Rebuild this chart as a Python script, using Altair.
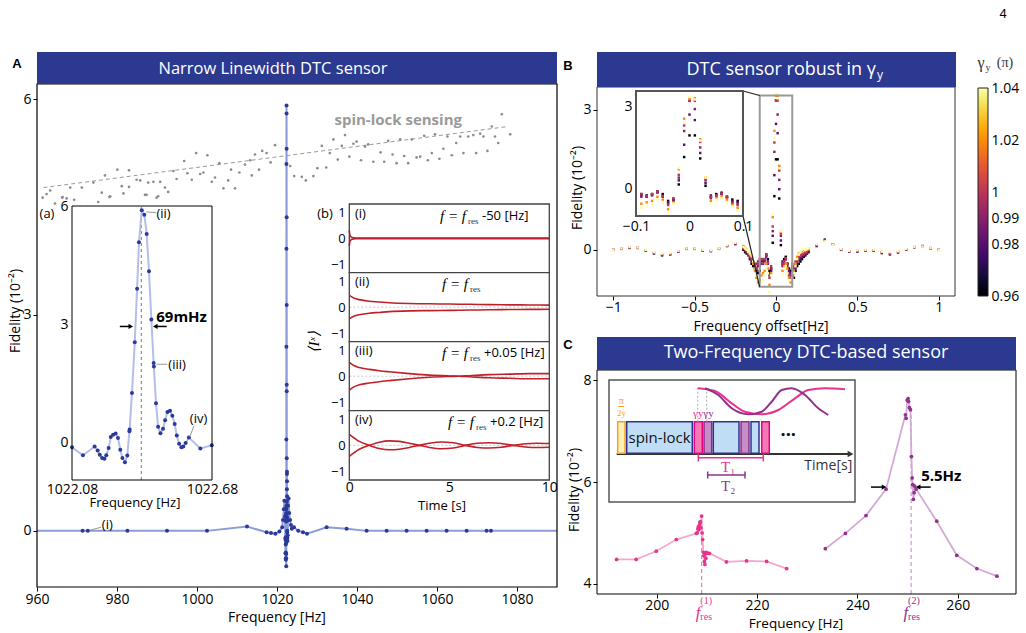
import altair as alt
import numpy as np
import pandas as pd

SANS = "Open Sans"
SERIF = "Liberation Serif"
ARIAL = "Liberation Sans"
NAVY = "#2B3990"
BLUE_PT = "#2B3A98"
BLUE_LN = "#8D9BD6"
BLUE_LN2 = "#B4BEE8"
PINK = "#E8338B"
PINK_LN = "#F5A8CC"
PURP = "#93318F"
PURP_LN = "#D3AAD6"
ORANGE = "#F6A21E"
RED = "#C0202A"

# ============================ DATA ============================
# --- Panel A: DTC sensor frequency scan (outside the zoom window) ---
A_LEFT_F = [971.4, 972.7, 982.6, 992.5, 1002.5, 1012.5, 1017.4, 1018.5, 1019.6, 1020.6,
            1021.3, 1021.5, 1021.7, 1021.85, 1022.0]
A_LEFT_V = [0.0, 0.0, 0.0, 0.0, 0.0, 0.06, -0.02, -0.03, -0.04, -0.01,
            0.05, 0.15, 0.3, 0.42, 0.2]
A_RIGHT_F = [1022.75, 1022.9, 1023.05, 1023.25, 1023.5, 1023.7, 1024.25, 1025.3, 1026.5, 1027.5,
             1032.4, 1037.4, 1042.4, 1047.4, 1052.4, 1057.4, 1062.4, 1067.4, 1072.4, 1073.5]
A_RIGHT_V = [0.35, 0.45, 0.25, 0.15, 0.08, 0.03, 0.05, 0.0, -0.02, -0.04,
             0.05, 0.03, 0.0, 0.0, 0.0, 0.0, 0.0, 0.0, 0.0, 0.0]
A_EDGE_F = [960, 1090]
A_EDGE_V = [0.0, 0.0]

# --- Inset (a): zoom on the resonance ---
IA_F = [1022.08, 1022.127, 1022.177, 1022.19, 1022.199, 1022.209, 1022.219, 1022.227, 1022.237, 1022.246,
        1022.256, 1022.267, 1022.277, 1022.287, 1022.296, 1022.307, 1022.317, 1022.326, 1022.327, 1022.337,
        1022.349, 1022.359, 1022.367, 1022.379, 1022.39, 1022.40, 1022.41, 1022.42, 1022.43, 1022.431,
        1022.44, 1022.449, 1022.459, 1022.47, 1022.479, 1022.489, 1022.50, 1022.51, 1022.52, 1022.529,
        1022.539, 1022.549, 1022.557, 1022.567, 1022.581, 1022.63, 1022.679]
IA_V = [-0.11, -0.31, -0.09, -0.19, -0.30, -0.38, -0.40, -0.31, -0.13, 0.15,
        0.21, 0.24, 0.13, -0.17, -0.38, -0.49, -0.32, 0.30, 0.34, 1.27,
        2.56, 3.92, 5.10, 5.91, 5.80, 5.31, 4.36, 3.14, 2.03, 1.94,
        1.01, 0.41, 0.25, 0.36, 0.58, 0.79, 0.82, 0.69, 0.48, 0.19,
        -0.02, -0.11, -0.09, 0.0, 0.14, -0.14, -0.06]
IA_RES = 1022.377

# --- spin-lock sensing (gray) ---
SL_F = [961.4, 963.3, 964.5, 966.3, 968.3, 969.3, 971.2, 974.1, 975.3, 976.2,
        977.0, 978.1, 980.1, 981.2, 983.0, 983.0, 984.9, 985.8, 987.0, 987.8,
        989.1, 989.9, 990.8, 992.0, 992.8, 994.1, 994.9, 996.8, 997.6, 998.7,
        999.8, 1000.8, 1001.6, 1002.6, 1003.7, 1004.5, 1005.6, 1006.6, 1007.8, 1008.5,
        1009.5, 1010.6, 1012.0, 1013.3, 1013.7, 1014.5, 1015.5, 1016.3, 1017.4, 1018.4,
        1019.5, 1023.3, 1024.3, 1026.2, 1027.2, 1029.1, 1030.1, 1031.2, 1032.3, 1033.2,
        1034.1, 1035.2, 1036.2, 1037.0, 1038.1, 1039.1, 1039.9, 1041.0, 1042.0, 1042.8,
        1044.1, 1045.9, 1046.8, 1047.8, 1048.9, 1049.9, 1050.8, 1051.8, 1052.8, 1053.7,
        1054.9, 1055.8, 1056.8, 1057.7, 1058.7, 1059.5, 1060.6, 1061.6, 1062.6, 1063.7,
        1064.8, 1065.8, 1066.6, 1067.8, 1069.1, 1069.8, 1070.8, 1071.6, 1072.6, 1073.7,
        1074.5, 1075.3, 1076.2, 1078.3,
        962.4, 966.4, 967.4, 970.8, 972.4, 973.3, 978.3, 981.6, 987.4, 990.3]
SL_V = [4.63, 4.73, 4.55, 4.63, 4.77, 4.60, 4.77, 4.84, 4.57, 4.70,
        4.94, 4.64, 5.02, 4.79, 5.01, 4.78, 4.88, 4.87, 4.67, 4.84,
        4.85, 4.63, 4.85, 4.77, 4.71, 5.00, 4.89, 5.14, 4.97, 4.88,
        5.25, 4.96, 4.98, 5.22, 4.85, 4.91, 5.11, 4.76, 4.87, 5.02,
        4.76, 4.98, 5.09, 5.15, 4.94, 5.23, 5.02, 5.28, 5.25, 5.12,
        5.36, 5.07, 4.93, 4.92, 4.87, 4.93, 5.04, 5.35, 5.05, 5.25,
        5.44, 5.16, 5.35, 5.50, 5.20, 5.38, 5.41, 5.15, 5.34, 5.37,
        5.13, 5.26, 5.13, 5.42, 5.23, 5.11, 5.44, 5.21, 5.11, 5.44,
        5.19, 5.20, 5.49, 5.15, 5.25, 5.51, 5.17, 5.31, 5.48, 5.22,
        5.39, 5.48, 5.25, 5.48, 5.50, 5.25, 5.52, 5.48, 5.28, 5.62,
        5.48, 5.39, 5.79, 5.51,
        4.68, 4.64, 4.62, 4.50, 4.50, 4.50, 4.65, 4.69, 4.67, 4.65]
SL_TREND_F = [961.6, 1077.8]
SL_TREND_V = [4.77, 5.62]

# --- Inset (b): <I^x> time traces (upper / lower branches) ---
B1_T = [0, 0.03, 0.08, 0.15, 0.3, 1, 10]
B1_U = [0.3, 0.12, 0.06, 0.03, 0.01, 0.01, 0.01]
B1_L = [-0.3, -0.12, -0.06, -0.03, -0.01, -0.01, -0.01]
B2_T = [0, 0.25, 0.5, 1, 1.5, 2, 3, 4, 5, 6, 7, 8, 9, 10]
B2_U = [0.45, 0.34, 0.29, 0.23, 0.20, 0.17, 0.14, 0.13, 0.12, 0.11, 0.10, 0.09, 0.085, 0.08]
B2_L = [-0.45, -0.34, -0.29, -0.23, -0.20, -0.17, -0.14, -0.13, -0.12, -0.11, -0.10, -0.09, -0.085, -0.08]
B3_T = [0, 0.25, 0.5, 1, 1.5, 2, 3, 4, 5, 5.5, 6, 7, 8, 9, 10]
B3_U = [0.53, 0.40, 0.33, 0.26, 0.21, 0.17, 0.10, 0.04, 0.01, 0.0, -0.02, -0.06, -0.08, -0.10, -0.10]
B3_L = [-0.53, -0.40, -0.33, -0.26, -0.21, -0.17, -0.10, -0.04, -0.01, 0.0, 0.02, 0.06, 0.08, 0.10, 0.10]
B4_T = [0, 0.5, 1, 1.5, 2, 2.5, 3, 3.5, 4, 4.6, 5.2, 5.8, 6.4, 7, 7.6, 8.2, 8.8, 9.4, 10]
B4_U = [0.42, 0.15, 0.0, -0.12, -0.17, -0.15, -0.08, 0.0, 0.08, 0.13, 0.10, 0.0, -0.08, -0.10, -0.07, 0.0, 0.06, 0.08, 0.07]
B4_L = [-0.42, -0.15, 0.0, 0.12, 0.17, 0.15, 0.08, 0.0, -0.08, -0.13, -0.10, 0.0, 0.08, 0.10, 0.07, 0.0, -0.06, -0.08, -0.07]

# --- Panel B: robustness in gamma_y ---
B_OUT_X = [-1.0, -0.95, -0.9, -0.85, -0.8, -0.75, -0.7, -0.65, -0.6, -0.55, -0.5, -0.45, -0.4, -0.35, -0.3, -0.25,
           0.25, 0.3, 0.35, 0.4, 0.45, 0.5, 0.55, 0.6, 0.65, 0.7, 0.75, 0.8, 0.85, 0.9, 0.95, 1.0]
B_OUT = {
    0.98: [0.0, 0.02, 0.04, 0.04, -0.02, -0.08, -0.12, -0.1, -0.04, 0.02, 0.02, -0.02, -0.03, 0.02, 0.08, 0.12,
           0.08, 0.22, 0.12, 0.0, -0.04, -0.04, -0.02, -0.02, -0.07, -0.1, -0.06, 0.0, 0.05, 0.08, 0.03, 0.0],
    1.0: [0.0, 0.03, 0.05, 0.05, -0.01, -0.06, -0.1, -0.09, -0.03, 0.03, 0.03, -0.01, -0.02, 0.03, 0.09, 0.14,
          0.1, 0.2, 0.12, 0.01, -0.03, -0.02, -0.01, -0.01, -0.05, -0.08, -0.04, 0.01, 0.06, 0.08, 0.04, 0.0],
    1.04: [0.0, 0.03, 0.06, 0.05, 0.0, -0.05, -0.08, -0.07, -0.02, 0.03, 0.03, 0.0, -0.01, 0.03, 0.1, 0.15,
           0.12, 0.18, 0.11, 0.02, -0.02, -0.01, 0.0, 0.0, -0.04, -0.05, -0.03, 0.02, 0.06, 0.07, 0.04, 0.0],
}
B_SIDE_X = [-0.2, -0.19, -0.18, -0.17, -0.16, -0.15, -0.14, -0.13, -0.12, -0.11, -0.1,
            0.1, 0.11, 0.12, 0.13, 0.14, 0.15, 0.16, 0.17, 0.18, 0.19, 0.2]
B_SIDE = {
    0.96: [0.0, -0.05, -0.08, -0.1, -0.2, -0.3, -0.35, -0.4, -0.45, -0.5, -0.45,
           -0.55, -0.6, -0.45, -0.35, -0.3, -0.25, -0.2, -0.15, -0.12, -0.08, -0.05],
    0.98: [0.02, -0.02, -0.06, -0.12, -0.18, -0.25, -0.3, -0.38, -0.4, -0.35, -0.3,
           -0.4, -0.5, -0.4, -0.3, -0.22, -0.2, -0.15, -0.12, -0.1, -0.06, -0.03],
    0.99: [0.05, 0.0, -0.05, -0.1, -0.15, -0.22, -0.28, -0.32, -0.3, -0.25, -0.35,
           -0.35, -0.4, -0.3, -0.25, -0.2, -0.15, -0.12, -0.1, -0.08, -0.05, -0.02],
    1.0: [0.04, 0.02, -0.03, -0.08, -0.12, -0.2, -0.25, -0.3, -0.38, -0.3, -0.2,
          -0.3, -0.35, -0.25, -0.2, -0.15, -0.12, -0.1, -0.08, -0.06, -0.04, 0.0],
    1.02: [0.08, 0.04, 0.0, -0.05, -0.1, -0.15, -0.3, -0.45, -0.6, -0.7, -0.65,
           -0.5, -0.45, -0.3, -0.15, -0.08, -0.05, -0.02, 0.0, -0.02, 0.0, 0.02],
    1.04: [0.06, 0.03, 0.0, -0.04, -0.08, -0.12, -0.25, -0.4, -0.55, -0.65, -0.75,
           -0.6, -0.5, -0.35, -0.2, -0.1, -0.04, 0.0, 0.02, 0.0, 0.02, 0.03],
}
B_CEN_X = [-0.09, -0.08, -0.07, -0.06, -0.05, -0.04, -0.03, -0.02, -0.01, 0.0,
           0.01, 0.02, 0.03, 0.04, 0.05, 0.06, 0.07, 0.08, 0.09]
B_CEN = {
    0.96: [-0.2, -0.25, -0.2, -0.1, -0.2, -0.45, -0.4, 0.15, 1.15, 1.94, 1.94, 1.1, 0.1, -0.3, -0.2, -0.15, -0.3, -0.4, -0.45],
    0.98: [-0.25, -0.3, -0.22, -0.12, -0.25, -0.5, -0.45, 0.3, 1.6, 2.7, 2.5, 1.3, 0.2, -0.25, -0.25, -0.2, -0.3, -0.45, -0.5],
    0.99: [-0.3, -0.3, -0.25, -0.15, -0.3, -0.55, -0.4, 0.4, 2.1, 3.2, 2.9, 1.5, 0.3, -0.35, -0.3, -0.2, -0.35, -0.5, -0.55],
    1.0: [-0.2, -0.28, -0.2, -0.1, -0.28, -0.6, -0.35, 0.5, 2.3, 3.2, 3.2, 1.7, 0.35, -0.3, -0.25, -0.18, -0.3, -0.55, -0.6],
    1.02: [-0.55, -0.5, -0.45, -0.3, -0.4, -0.75, -0.5, 0.7, 2.55, 3.3, 3.3, 1.8, 0.4, -0.45, -0.35, -0.3, -0.4, -0.6, -0.7],
    1.04: [-0.7, -0.65, -0.55, -0.4, -0.5, -0.9, -0.55, 0.75, 2.4, 3.35, 3.25, 1.75, 0.4, -0.55, -0.4, -0.35, -0.5, -0.65, -0.8],
}
CB_TICKS = [0.96, 0.98, 0.99, 1.0, 1.02, 1.04]

# --- Panel C: two-frequency sensor ---
C1_F = [192.0, 195.9, 199.9, 203.9, 207.9, 208.07, 208.2, 208.3, 208.4, 208.5, 208.6, 208.7, 208.8, 208.95,
        209.05, 209.15, 209.3, 209.4, 209.5, 209.6, 209.7, 209.8, 209.9, 210.2, 210.5, 213.9, 217.9, 221.9, 225.9]
C1_V = [4.48, 4.48, 4.64, 4.87, 4.99, 5.0, 5.08, 5.12, 5.06, 5.15, 5.2, 5.22, 5.1, 5.33,
        5.0, 4.87, 4.62, 4.55, 4.44, 4.38, 4.6, 4.5, 4.62, 4.6, 4.6, 4.43, 4.45, 4.44, 4.30]
C2_F = [233.6, 237.6, 241.7, 245.7, 249.56, 249.7, 249.9, 250.1, 250.2, 250.36, 250.56, 250.76, 250.9, 251.0,
        251.15, 251.3, 251.4, 251.7, 255.8, 259.8, 263.8, 267.8]
C2_V = [4.69, 4.99, 5.34, 5.86, 7.32, 7.25, 7.61, 7.64, 7.58, 7.46, 7.42, 6.50, 6.08, 5.95,
        5.66, 5.79, 5.92, 5.86, 5.23, 4.56, 4.30, 4.15]
F_RES1, F_RES2 = 208.95, 250.7

# --- Panel C schematic (arbitrary time units) ---
SB_X1 = [8.7, 17.7, 85.3, 95.0, 104.3, 132.0, 142.0, 152.7]
SB_X2 = [16.0, 83.3, 93.3, 102.7, 130.0, 140.0, 150.0, 160.3]
SB_KIND = ["pi2", "lock", "g1", "g2", "lock", "g2", "lock", "g1"]
BLOCK_LO, BLOCK_HI = 48.7, 80.3
KINDS = ["pi2", "lock", "g1", "g2"]
K_FILL = ["#FFF1B8", "#BFDEF5", "#F47AB6", "#C58FC6"]
K_STROKE = [ORANGE, "#2E3192", "#E6007E", "#8B2C8D"]
SP_X = [88.7, 106, 122.7, 136, 152.7, 169.3, 186, 199.3, 216, 236]
SP_Y = [113.7, 111, 98.7, 90.3, 87.7, 92, 103.7, 112, 113.7, 112.7]
SQ_X = [96, 109.3, 122.7, 139.3, 152.7, 162.7, 172.7, 182.7, 196, 209.3, 219.3]
SQ_Y = [113.7, 107, 93.7, 87.7, 90.3, 100.3, 112, 113.7, 107, 93.7, 87]

# ============================ HELPERS ============================
ONE = pd.DataFrame({"k": [0]})


def sc(dom, rng):
    return alt.Scale(domain=dom, range=rng, zero=False, nice=False)


def ax(orient, offset, values, fmt, ticks=True, pad=2, size=14):
    return alt.Axis(orient=orient, offset=offset, values=values, format=fmt, title=None,
                    domain=False, grid=False, ticks=ticks, tickSize=4, tickColor="black",
                    labelFont=SANS, labelFontSize=size, labelColor="black", labelPadding=pad,
                    labelFlush=False, labelOverlap=False, labelBound=False)


def XE(spec, field):
    return alt.X(field, scale=spec[0], axis=spec[1])


def YE(spec, field):
    return alt.Y(field, scale=spec[0], axis=spec[1])


def ptext(s, x, y, size=14, color="black", font=SANS, weight="normal", style="normal",
          align="center", baseline="middle", angle=None):
    kw = dict(text=s, fontSize=size, color=color, font=font, fontWeight=weight,
              fontStyle=style, align=align, baseline=baseline)
    if angle is not None:
        kw["angle"] = angle
    return alt.Chart(ONE).mark_text(**kw).encode(x=alt.value(x), y=alt.value(y))


def prect(x1, y1, x2, y2, fill=None, stroke=None, sw=1.0):
    kw = {}
    if fill:
        kw["fill"] = fill
    else:
        kw["fillOpacity"] = 0
    if stroke:
        kw["stroke"] = stroke
        kw["strokeWidth"] = sw
    else:
        kw["strokeWidth"] = 0
    return alt.Chart(ONE).mark_rect(**kw).encode(
        x=alt.value(x1), y=alt.value(y1), x2=alt.value(x2), y2=alt.value(y2))


def prule(x1, y1, x2, y2, color, sw=1.0, dash=None):
    kw = dict(color=color, strokeWidth=sw)
    if dash:
        kw["strokeDash"] = dash
    return alt.Chart(ONE).mark_rule(**kw).encode(
        x=alt.value(x1), y=alt.value(y1), x2=alt.value(x2), y2=alt.value(y2))


def dtext(X, Y, x, y, s, **kw):
    df = pd.DataFrame({"x": [x], "y": [y]})
    return alt.Chart(df).mark_text(text=s, **kw).encode(x=XE(X, "x:Q"), y=YE(Y, "y:Q"))


def dtext_px(X, x, ypx, s, **kw):
    df = pd.DataFrame({"x": [x]})
    return alt.Chart(df).mark_text(text=s, **kw).encode(x=XE(X, "x:Q"), y=alt.value(ypx))


def drule(X, Y, x1, y1, x2, y2, **kw):
    df = pd.DataFrame({"x": [x1], "y": [y1], "x2": [x2], "y2": [y2]})
    return alt.Chart(df).mark_rule(**kw).encode(x=XE(X, "x:Q"), y=YE(Y, "y:Q"), x2="x2:Q", y2="y2:Q")


def dtri(X, Y, x, y, shape, color, size=30):
    df = pd.DataFrame({"x": [x], "y": [y]})
    return alt.Chart(df).mark_point(shape=shape, filled=True, color=color, size=size, opacity=1,
                                    strokeWidth=0).encode(x=XE(X, "x:Q"), y=YE(Y, "y:Q"))


def darrow(X, Y, x_tail, x_head, y, color="black", sw=1.5, size=30):
    shape = "triangle-right" if x_head > x_tail else "triangle-left"
    return alt.layer(drule(X, Y, x_tail, y, x_head, y, color=color, strokeWidth=sw),
                     dtri(X, Y, x_head, y, shape, color, size))


def drect(X, Y, x1, y1, x2, y2, **kw):
    df = pd.DataFrame({"x": [x1], "y": [y1], "x2": [x2], "y2": [y2]})
    return alt.Chart(df).mark_rect(**kw).encode(x=XE(X, "x:Q"), y=YE(Y, "y:Q"), x2="x2:Q", y2="y2:Q")


children = []

# ============================ PANEL A ============================
AXS = (sc([960, 1090], [37, 557]), ax("bottom", -46, [960, 980, 1000, 1020, 1040, 1060, 1080], "d", pad=1))
AYS = (sc([-0.78, 6.21], [587, 84]), ax("left", -37, [0, 3, 6], "d"))
a_pts = pd.DataFrame({"f": A_LEFT_F + IA_F + A_RIGHT_F, "v": A_LEFT_V + IA_V + A_RIGHT_V})
a_line = pd.DataFrame({"f": A_EDGE_F[:1] + A_LEFT_F + IA_F + A_RIGHT_F + A_EDGE_F[1:],
                       "v": A_EDGE_V[:1] + A_LEFT_V + IA_V + A_RIGHT_V + A_EDGE_V[1:]}).sort_values("f")
sl = pd.DataFrame({"f": SL_F, "v": SL_V})
sl_tr = pd.DataFrame({"f": SL_TREND_F, "v": SL_TREND_V})
panelA = alt.layer(
    alt.Chart(sl_tr).mark_line(color="#9A9A9A", strokeWidth=1, strokeDash=[4, 3]).encode(
        x=XE(AXS, "f:Q"), y=YE(AYS, "v:Q")),
    alt.Chart(sl).mark_circle(size=7, color="#8C8C8C", opacity=1).encode(x=XE(AXS, "f:Q"), y=YE(AYS, "v:Q")),
    alt.Chart(a_line).mark_line(color=BLUE_LN, strokeWidth=2).encode(x=XE(AXS, "f:Q"), y=YE(AYS, "v:Q")),
    alt.Chart(a_pts).mark_circle(size=16, color=BLUE_PT, opacity=1).encode(x=XE(AXS, "f:Q"), y=YE(AYS, "v:Q")),
    dtext(AXS, AYS, 1050.3, 5.71, "spin-lock sensing", fontSize=15, fontWeight="bold", color="#9A9A9A", font=SANS),
    dtext(AXS, AYS, 976.2, 0.08, "(i)", fontSize=13, font=SANS, align="left"),
    drule(AXS, AYS, 976.0, 0.05, 973.3, 0.01, color="#999999", strokeWidth=1),
)
children.append(panelA)

# ---------- inset (a) ----------
IAXS = (sc([1022.08, 1022.68], [72, 212]), ax("bottom", -153, [1022.08, 1022.68], ".2f", ticks=False, pad=2))
IAYS = (sc([-0.94, 6.02], [480, 206]), ax("left", -72, [0, 3, 6], "d", ticks=False, pad=4))
ia = pd.DataFrame({"f": IA_F, "v": IA_V})
insetA = alt.layer(
    prect(72, 206, 212, 480, fill="white"),
    drule(IAXS, IAYS, IA_RES, -0.94, IA_RES, 6.02, color="#777777", strokeWidth=1, strokeDash=[3, 3]),
    alt.Chart(ia).mark_line(color=BLUE_LN2, strokeWidth=2).encode(x=XE(IAXS, "f:Q"), y=YE(IAYS, "v:Q")),
    alt.Chart(ia).mark_circle(size=16, color=BLUE_PT, opacity=1).encode(x=XE(IAXS, "f:Q"), y=YE(IAYS, "v:Q")),
    dtext(IAXS, IAYS, 1022.442, 5.82, "(ii)", fontSize=13, align="left", font=SANS),
    drule(IAXS, IAYS, 1022.44, 5.85, 1022.398, 5.87, color="#999999", strokeWidth=1),
    dtext(IAXS, IAYS, 1022.493, 1.98, "(iii)", fontSize=13, align="left", font=SANS),
    drule(IAXS, IAYS, 1022.488, 2.0, 1022.442, 2.0, color="#999999", strokeWidth=1),
    dtext(IAXS, IAYS, 1022.585, 0.62, "(iv)", fontSize=13, align="left", font=SANS),
    drule(IAXS, IAYS, 1022.603, 0.44, 1022.585, 0.16, color="#999999", strokeWidth=1),
    dtext(IAXS, IAYS, 1022.441, 3.19, "69mHz", fontSize=15, fontWeight="bold", align="left", font=SANS),
    darrow(IAXS, IAYS, 1022.285, 1022.332, 2.96, size=28),
    darrow(IAXS, IAYS, 1022.486, 1022.437, 2.96, size=28),
    prect(72, 206, 212, 480, stroke="black", sw=1),
)
children.append(insetA)

# ---------- inset (b) ----------
TX = sc([0, 10], [349.3, 549.3])
B_TOPS = [204, 272.7, 341.7, 410.7]
B_BOTS = [272.7, 341.7, 410.7, 480]
traces = [(B1_T, B1_U, B1_L), (B2_T, B2_U, B2_L), (B3_T, B3_U, B3_L), (B4_T, B4_U, B4_L)]
for k, (T, U, L) in enumerate(traces):
    TXS = (TX, ax("bottom", -153, [0, 5, 10], "d", ticks=False, pad=0) if k == 3 else None)
    TYS = (sc([-1.32, 1.32], [B_BOTS[k], B_TOPS[k]]),
           ax("left", -349.3, [-1, 0, 1], "d", ticks=False, pad=4, size=13))
    df = pd.DataFrame({"t": T + T, "v": U + L, "c": ["u"] * len(T) + ["l"] * len(T)})
    zero = pd.DataFrame({"t": [0], "t2": [10], "z": [0]})
    sub = alt.layer(
        prect(349.3, B_TOPS[k], 549.3, B_BOTS[k], fill="white"),
        alt.Chart(zero).mark_rule(color="#BBBBBB", strokeWidth=0.8, strokeDash=[2, 2]).encode(
            x=XE(TXS, "t:Q"), x2="t2:Q", y=YE(TYS, "z:Q")),
        alt.Chart(df).mark_line(color=RED, strokeWidth=1.6, interpolate="monotone").encode(
            x=XE(TXS, "t:Q"), y=YE(TYS, "v:Q"), detail="c:N"),
        prect(349.3, B_TOPS[k], 549.3, B_BOTS[k], stroke="#444444", sw=1.3),
    )
    children.append(sub)

# (b) labels
b_labels = [("(i)", 216, 440, "-50 [Hz]"), ("(ii)", 284, 442, ""), ("(iii)", 353, 442, "+0.05 [Hz]"),
            ("(iv)", 422, 448, "+0.2 [Hz]")]
for lab, yy, xf, rest in b_labels:
    children.append(ptext(lab, 355, yy - 2, size=13, align="left"))
    children.append(ptext("f = f", xf, yy, size=15, font=SERIF, style="italic", align="left"))
    children.append(ptext("res", xf + 28, yy + 5, size=9, font=SERIF, align="left", color="#333333"))
    if rest:
        children.append(ptext(rest, xf + 42, yy, size=13, align="left"))

# ============================ PANEL B ============================
BXS = (sc([-1.1, 1.1], [597, 955]), ax("bottom", -337, [-1, -0.5, 0, 0.5, 1], "~g", pad=0))
BYS = (sc([-0.99, 3.49], [296, 87]), ax("left", -597, [0, 3], "d"))
CSCALE = alt.Scale(scheme="inferno", domain=[0.96, 1.04])
rows = []
for g, vals in B_OUT.items():
    rows += [(x, v, g) for x, v in zip(B_OUT_X, vals)]
for g, vals in B_SIDE.items():
    rows += [(x, v, g) for x, v in zip(B_SIDE_X, vals)]
cen_rows = []
for g, vals in B_CEN.items():
    cen_rows += [(x, v, g) for x, v in zip(B_CEN_X, vals)]
dfB = pd.DataFrame(rows + cen_rows, columns=["x", "v", "g"]).sort_values("g", kind="stable")
dfBI = pd.DataFrame(cen_rows, columns=["x", "v", "g"]).sort_values("g", kind="stable")

panelB = alt.layer(
    alt.Chart(dfB).mark_square(size=6, opacity=1).encode(
        x=XE(BXS, "x:Q"), y=YE(BYS, "v:Q"), color=alt.Color("g:Q", scale=CSCALE, legend=None)),
    drect(BXS, BYS, -0.1, -0.79, 0.1, 3.31, fillOpacity=0, stroke="#9A9A9A", strokeWidth=2),
)
children.append(panelB)
children.append(prule(743, 91, 759.7, 95.5, "#222222", 1.2))
children.append(prule(743, 216, 759.7, 287, "#222222", 1.2))

BIXS = (sc([-0.1, 0.1], [636, 743]), ax("bottom", -417, [-0.1, 0, 0.1], "~g", ticks=False, pad=3))
BIYS = (sc([-1.0, 3.56], [216, 91]), ax("left", -636, [0, 3], "d", ticks=False, pad=4))
insetB = alt.layer(
    prect(636, 91, 743, 216, fill="white"),
    alt.Chart(dfBI).mark_square(size=6, opacity=1).encode(
        x=XE(BIXS, "x:Q"), y=YE(BIYS, "v:Q"), color=alt.Color("g:Q", scale=CSCALE, legend=None)),
    prect(636, 91, 743, 216, stroke="#555555", sw=2),
)
children.append(insetB)

# colour bar (gradient slices of the inferno scale)
CBY = sc([0.96, 1.04], [296, 88])
cb_lo = np.round(np.arange(0.96, 1.04, 0.0005), 5)
dfCB = pd.DataFrame({"lo": cb_lo, "hi": np.minimum(cb_lo + 0.0008, 1.04), "m": cb_lo + 0.00025})
colorbar = alt.layer(
    alt.Chart(dfCB).mark_rect(strokeWidth=0).encode(
        x=alt.value(978), x2=alt.value(988),
        y=alt.Y("lo:Q", scale=CBY, axis=ax("right", -38, CB_TICKS, "~g", ticks=False, pad=3)),
        y2="hi:Q", color=alt.Color("m:Q", scale=CSCALE, legend=None)),
    prect(978, 88, 988, 296, stroke="#222222", sw=1),
)
children.append(colorbar)
children.append(ptext("γ", 981, 63, size=16, font=SERIF, color="#333333"))
children.append(ptext("y", 988, 68, size=10, font=SERIF, color="#333333"))
children.append(ptext("(π)", 1005, 63, size=14, font=SERIF, color="#333333"))

# ============================ PANEL C ============================
CXS = (sc([188.1, 271.6], [597, 1016]), ax("bottom", -39, [200, 220, 240, 260], "d", pad=0))
CYS = (sc([3.8, 8.2], [594, 370]), ax("left", -597, [4, 6, 8], "d"))
c1 = pd.DataFrame({"f": C1_F, "v": C1_V})
c2 = pd.DataFrame({"f": C2_F, "v": C2_V})
panelC = alt.layer(
    drule(CXS, CYS, F_RES1, 3.8, F_RES1, 4.95, color="#F07DB4", strokeWidth=1.2, strokeDash=[4, 3]),
    drule(CXS, CYS, F_RES2, 3.8, F_RES2, 7.45, color="#C79AD0", strokeWidth=1.2, strokeDash=[4, 3]),
    alt.Chart(c1).mark_line(color=PINK_LN, strokeWidth=1.8).encode(x=XE(CXS, "f:Q"), y=YE(CYS, "v:Q")),
    alt.Chart(c1).mark_circle(size=14, color=PINK, opacity=1).encode(x=XE(CXS, "f:Q"), y=YE(CYS, "v:Q")),
    alt.Chart(c2).mark_line(color=PURP_LN, strokeWidth=1.8).encode(x=XE(CXS, "f:Q"), y=YE(CYS, "v:Q")),
    alt.Chart(c2).mark_circle(size=14, color=PURP, opacity=1).encode(x=XE(CXS, "f:Q"), y=YE(CYS, "v:Q")),
    darrow(CXS, CYS, 242.7, 245.3, 5.9, size=28),
    darrow(CXS, CYS, 254.6, 252.1, 5.9, size=28),
    dtext(CXS, CYS, 252.7, 6.11, "5.5Hz", fontSize=15, fontWeight="bold", align="left", font=SANS),
    dtext_px(CXS, 208.7, 613, "f", fontSize=17, font=SERIF, fontStyle="italic", color=PINK, align="right"),
    dtext_px(CXS, 208.7, 601, "(1)", fontSize=10, font=SERIF, color=PINK, align="left"),
    dtext_px(CXS, 208.7, 617, "res", fontSize=10, font=SERIF, color=PINK, align="left"),
    dtext_px(CXS, 250.1, 613, "f", fontSize=17, font=SERIF, fontStyle="italic", color=PURP, align="right"),
    dtext_px(CXS, 250.1, 601, "(2)", fontSize=10, font=SERIF, color=PURP, align="left"),
    dtext_px(CXS, 250.1, 617, "res", fontSize=10, font=SERIF, color=PURP, align="left"),
)
children.append(panelC)

# ---------- schematic inset ----------
SXS = (sc([0, 246], [609, 855]), None)
SYS = (sc([0, 122], [502, 380]), None)
blocks = pd.DataFrame({"x1": SB_X1, "x2": SB_X2, "k": SB_KIND,
                       "y1": [BLOCK_LO] * len(SB_X1), "y2": [BLOCK_HI] * len(SB_X1)})
curves = pd.DataFrame({"x": SP_X + SQ_X, "y": SP_Y + SQ_Y,
                       "c": ["T1"] * len(SP_X) + ["T2"] * len(SQ_X)})
schem = alt.layer(
    drect(SXS, SYS, 0, 0, 246, 122, fill="white", stroke="#555555", strokeWidth=1.5),
    drule(SXS, SYS, 7.7, 48, 240, 48, color="#333333", strokeWidth=2),
    dtri(SXS, SYS, 241.5, 48, "triangle-right", "#333333", 45),
    alt.Chart(blocks).mark_rect(strokeWidth=1.5).encode(
        x=XE(SXS, "x1:Q"), x2="x2:Q", y=YE(SYS, "y1:Q"), y2="y2:Q",
        fill=alt.Fill("k:N", scale=alt.Scale(domain=KINDS, range=K_FILL), legend=None),
        stroke=alt.Stroke("k:N", scale=alt.Scale(domain=KINDS, range=K_STROKE), legend=None)),
    drule(SXS, SYS, 88.7, 80.3, 88.7, 113.7, color="#AAAAAA", strokeWidth=1, strokeDash=[2, 2]),
    drule(SXS, SYS, 97.7, 80.3, 97.7, 113.7, color="#AAAAAA", strokeWidth=1, strokeDash=[2, 2]),
    alt.Chart(curves).mark_line(strokeWidth=2, interpolate="monotone").encode(
        x=XE(SXS, "x:Q"), y=YE(SYS, "y:Q"),
        color=alt.Color("c:N", scale=alt.Scale(domain=["T1", "T2"], range=[PINK, PURP]), legend=None)),
    dtext(SXS, SYS, 50.5, 64.5, "spin-lock", fontSize=15, font=SANS, color="#111111"),
    dtext(SXS, SYS, 179.3, 66, "···", fontSize=18, font=SANS, fontWeight="bold", color="#111111"),
    dtext(SXS, SYS, 89.3, 88, "γy", fontSize=11, font=SERIF, color=PINK),
    dtext(SXS, SYS, 99.5, 88, "γy", fontSize=11, font=SERIF, color=PURP),
    dtext(SXS, SYS, 12.3, 101, "π", fontSize=10, font=SERIF, color=ORANGE),
    drule(SXS, SYS, 9.3, 95.5, 15.3, 95.5, color=ORANGE, strokeWidth=1),
    dtext(SXS, SYS, 12.6, 89.5, "2y", fontSize=9, font=SERIF, color=ORANGE),
    drule(SXS, SYS, 89.3, 44.3, 154.3, 44.3, color=PINK, strokeWidth=1.5),
    drule(SXS, SYS, 89.3, 40.5, 89.3, 48, color=PINK, strokeWidth=1.5),
    drule(SXS, SYS, 154.3, 40.5, 154.3, 48, color=PINK, strokeWidth=1.5),
    dtext(SXS, SYS, 119.3, 35.5, "T₁", fontSize=15, font=SERIF, color=PINK),
    drule(SXS, SYS, 98.7, 27, 136, 27, color=PURP, strokeWidth=1.5),
    drule(SXS, SYS, 98.7, 23.5, 98.7, 30.5, color=PURP, strokeWidth=1.5),
    drule(SXS, SYS, 136, 23.5, 136, 30.5, color=PURP, strokeWidth=1.5),
    dtext(SXS, SYS, 119.3, 16, "T₂", fontSize=15, font=SERIF, color=PURP),
    dtext(SXS, SYS, 219.3, 36.3, "Time[s]", fontSize=14, font=SANS, color="#333333"),
)
children.append(schem)

# ============================ DECORATION ============================
deco = [
    prect(37, 84, 557, 587, stroke="black", sw=1.2),
    prect(597, 87, 955, 296, stroke="#333333", sw=1),
    prect(597, 370, 1016, 594, stroke="black", sw=1),
    prect(37, 52, 557, 84, fill=NAVY),
    prect(597, 52, 956, 87, fill=NAVY),
    prect(597, 337, 1016, 370, fill=NAVY),
    ptext("Narrow Linewidth DTC sensor", 273, 69, size=16.5, color="white"),
    ptext("DTC sensor robust in γ", 876, 70, size=18, color="white", align="right"),
    ptext("y", 877, 75, size=12, color="white", align="left"),
    ptext("Two-Frequency DTC-based sensor", 806, 353, size=18, color="white"),
    ptext("A", 17, 64, size=13, weight="bold", font=ARIAL),
    ptext("B", 568, 66, size=13, weight="bold", font=ARIAL),
    ptext("C", 568, 345, size=13, weight="bold", font=ARIAL),
    ptext("4", 1003, 14, size=13, font=ARIAL),
    ptext("Frequency [Hz]", 277, 618, size=14),
    ptext("Fidelity (10⁻²)", 16, 311, size=14, angle=270),
    ptext("Frequency [Hz]", 135, 503, size=13),
    ptext("(a)", 47, 214, size=13),
    ptext("Time [s]", 442, 506, size=13),
    ptext("(b)", 325, 214, size=13),
    ptext("⟨Iˣ⟩", 314, 342, size=15, font=SERIF, style="italic", angle=270),
    ptext("Frequency offset[Hz]", 761, 327, size=14),
    ptext("Fidelity (10⁻²)", 578, 188, size=14, angle=270),
    ptext("Frequency [Hz]", 796, 624, size=13.5),
    ptext("Fidelity (10⁻²)", 575, 490, size=14, angle=270),
]
children += deco

chart = alt.layer(*children).resolve_scale(
    x="independent", y="independent", color="independent"
).properties(
    width=1026, height=633, autosize=alt.AutoSizeParams(type="none"), padding=0
).configure_view(strokeWidth=0)

chart.save("out.html", embed_options={"renderer": "svg", "actions": False})
